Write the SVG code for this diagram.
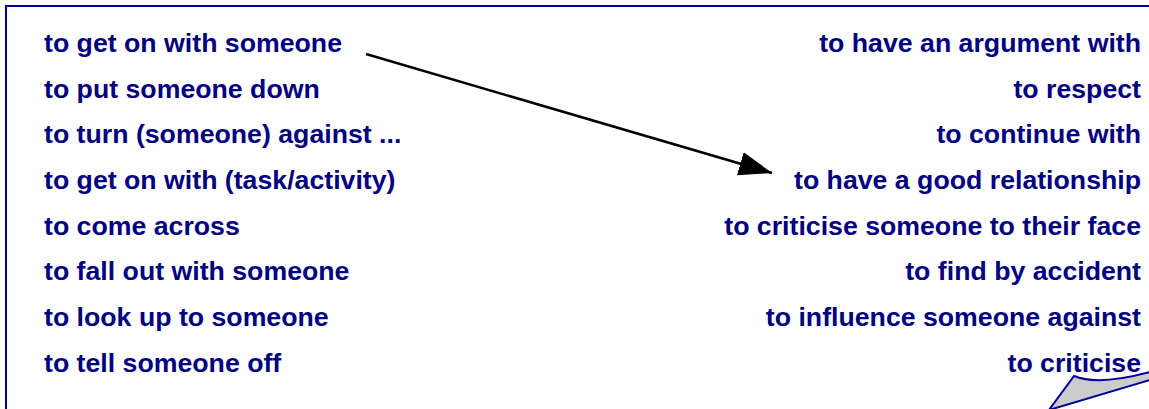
<svg xmlns="http://www.w3.org/2000/svg" width="1149" height="409" viewBox="0 0 1149 409">
<style>
.t{font-family:"Liberation Sans",Arial,sans-serif;font-weight:bold;font-size:26.7px;fill:#000080}
.r{text-anchor:end}
</style>
<defs>
<marker id="ah" markerUnits="userSpaceOnUse" markerWidth="36" markerHeight="26" refX="33" refY="12" orient="auto">
<path d="M0,0 L33,12 L0,24 Z" fill="#000"/>
</marker>
</defs>
<rect x="6" y="6" width="1160" height="420" fill="#fff" stroke="#000099" stroke-width="2"/>
<g id="left">
<text class="t" x="44" y="52">to get on with someone</text>
<text class="t" x="44" y="98">to put someone down</text>
<text class="t" x="44" y="143">to turn (someone) against ...</text>
<text class="t" x="44" y="189">to get on with (task/activity)</text>
<text class="t" x="44" y="235">to come across</text>
<text class="t" x="44" y="280">to fall out with someone</text>
<text class="t" x="44" y="326">to look up to someone</text>
<text class="t" x="44" y="372">to tell someone off</text>
</g>
<g id="right">
<text class="t r" x="1141" y="52">to have an argument with</text>
<text class="t r" x="1141" y="98">to respect</text>
<text class="t r" x="1141" y="143">to continue with</text>
<text class="t r" x="1141" y="189">to have a good relationship</text>
<text class="t r" x="1141" y="235">to criticise someone to their face</text>
<text class="t r" x="1141" y="280">to find by accident</text>
<text class="t r" x="1141" y="326">to influence someone against</text>
<text class="t r" x="1141" y="372">to criticise</text>
</g>
<g id="connectors">
<line x1="366" y1="54" x2="772" y2="173" stroke="#000" stroke-width="2.5" marker-end="url(#ah)"/>
</g>
<g id="fold">
<path d="M1074,376 Q1098,386 1150,372 L1150,380 L1049,410 Z" fill="#cccccc" stroke="#000099" stroke-width="2"/>
</g>
</svg>
